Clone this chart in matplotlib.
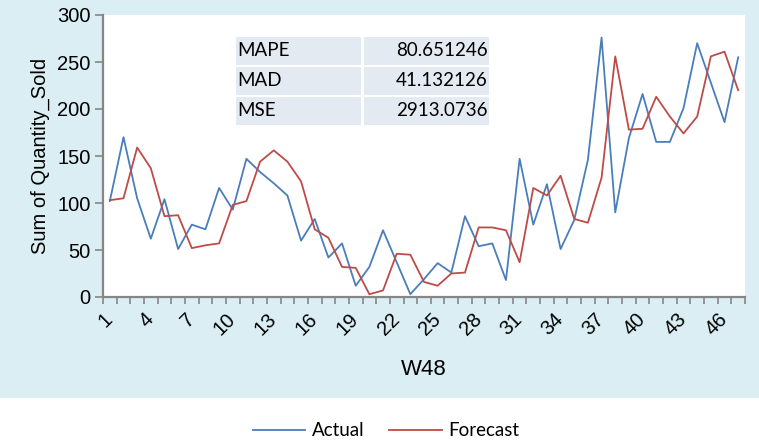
import matplotlib
matplotlib.use('Agg')
import matplotlib.pyplot as plt
from matplotlib.patches import Rectangle
import numpy as np

# ----------------------------------------
# Data
# ----------------------------------------
weeks = list(range(1, 48))
actual = [102, 170, 105, 62, 104, 51, 77, 72, 116, 93, 147, 133, 121, 108, 60, 83,
          42, 57, 12, 32, 71, 37, 3, 19, 36, 26, 86, 54, 57, 18, 147, 77, 120, 51,
          82, 146, 276, 90, 169, 216, 165, 165, 201, 270, 228, 186, 255]
forecast = [103, 105, 159, 137, 86, 87, 52, 55, 57, 98, 102, 144, 156, 144, 123, 72,
            63, 32, 31, 3, 7, 46, 45, 16, 12, 25, 26, 74, 74, 71, 37, 116, 108, 129,
            83, 79, 127, 256, 178, 179, 213, 192, 174, 192, 256, 261, 220]
metric_names = ['MAPE', 'MAD', 'MSE']
metric_values = ['80.651246', '41.132126', '2913.0736']

# ----------------------------------------
# Figure setup
# ----------------------------------------
W, H = 759, 447
fig = plt.figure(figsize=(W / 100, H / 100), dpi=100)
fig.patch.set_facecolor('white')

# light blue chart area (top part of figure)
fig.add_artist(Rectangle((0, 1 - 398 / H), 1, 398 / H, transform=fig.transFigure,
                         facecolor='#DAEEF3', edgecolor='none', zorder=0))

ax = fig.add_axes([103 / W, 1 - 297 / H, 642 / W, 282 / H])
ax.set_facecolor('white')

x = np.arange(len(weeks))
ax.plot(x, actual, color='#4A7EBB', lw=1.3, label='Actual', zorder=3)
ax.plot(x, forecast, color='#BE4B48', lw=1.3, label='Forecast', zorder=3)

ax.set_xlim(-0.5, len(weeks) - 0.5)
ax.set_ylim(0, 300)
ax.set_yticks(range(0, 301, 50))

grey = '#868686'
for s in ['top', 'right']:
    ax.spines[s].set_visible(False)
for s in ['left', 'bottom']:
    ax.spines[s].set_color(grey)
    ax.spines[s].set_linewidth(1.6)

axis_font = 'Liberation Sans'
ax.tick_params(axis='y', direction='out', length=6, width=1.2, color=grey,
               labelsize=14.5, pad=3)
for lab in ax.get_yticklabels():
    lab.set_family(axis_font)

# category boundary ticks + labels every 3rd week
ax.set_xticks(np.arange(-0.5, len(weeks)), minor=True)
ax.set_xticks(x[::3])
ax.set_xticklabels([str(w) for w in weeks[::3]], rotation=45, ha='right',
                   va='center', rotation_mode='anchor', family=axis_font)
ax.tick_params(axis='x', which='minor', direction='out', length=5, width=1.2, color=grey)
ax.tick_params(axis='x', which='major', length=0, labelsize=14.5, pad=14)

ax.set_ylabel('Sum of Quantity_Sold', fontsize=14.5, family=axis_font, labelpad=5)
ax.set_xlabel('W48', fontsize=16, family=axis_font, labelpad=14)

# ----------------------------------------
# Error metric table
# ----------------------------------------
cell_color = '#E4EAF2'
col_left = [236, 364]
col_w = 125
row_top = [37, 67, 97]
row_h = 28
for r, (name, val) in enumerate(zip(metric_names, metric_values)):
    y0 = 1 - (row_top[r] + row_h) / H
    for c in range(2):
        fig.add_artist(Rectangle((col_left[c] / W, y0), col_w / W, row_h / H,
                                 transform=fig.transFigure, facecolor=cell_color,
                                 edgecolor='none', zorder=4))
    yc = 1 - (row_top[r] + row_h / 2) / H
    fig.text((col_left[0] + 1) / W, yc, name, family='Lato', fontsize=13.5,
             ha='left', va='center', zorder=5)
    fig.text((col_left[1] + col_w - 1) / W, yc, val, family='Lato', fontsize=13.5,
             ha='right', va='center', zorder=5)

# ----------------------------------------
# Legend
# ----------------------------------------
fig.legend(loc='center', bbox_to_anchor=(386 / W, 1 - 431 / H), ncol=2, frameon=False,
           prop={'family': 'Lato', 'size': 13.5}, handlelength=2.8, handletextpad=0.35,
           columnspacing=1.3)

fig.savefig('out.png', dpi=100)
